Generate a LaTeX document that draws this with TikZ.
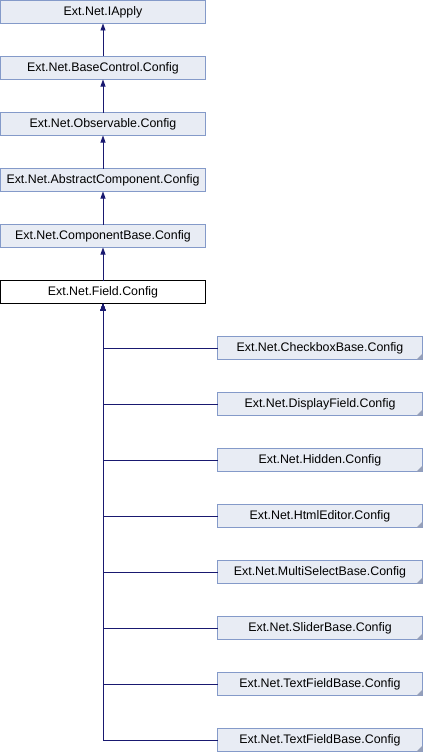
\documentclass[tikz,border=0pt]{standalone}
\usepackage{fontspec}
\setmainfont{Liberation Sans}
\usetikzlibrary{arrows.meta,positioning}
\definecolor{colBord}{RGB}{132,154,201}
\definecolor{colFond}{RGB}{232,236,244}
\definecolor{colLien}{RGB}{25,25,112}
\definecolor{colCoin}{RGB}{150,160,185}

\begin{document}
\begin{tikzpicture}[x=1pt, y=1pt, font=\fontsize{12.4}{14}\selectfont,
    cl/.style={rectangle, draw=colBord, fill=colFond, line width=0.8pt,
      minimum width=205pt, minimum height=23pt, inner sep=0pt, outer sep=0pt},
    cur/.style={cl, draw=black, fill=white},
    fl/.style={{Triangle[length=7pt, width=5pt]}-, line width=0.8pt, colLien}]
    \useasboundingbox (0,0) rectangle (424,-752);
    % chaine des parents
    \node[cl] (iapply) at (103,-12) {Ext.Net.IApply};
    \node[cl, below=33pt of iapply] (basectl) {Ext.Net.BaseControl.Config};
    \node[cl, below=33pt of basectl] (observ) {Ext.Net.Observable.Config};
    \node[cl, below=33pt of observ] (abscomp) {Ext.Net.AbstractComponent.Config};
    \node[cl, below=33pt of abscomp] (compbase) {Ext.Net.ComponentBase.Config};
    \node[cur, below=33pt of compbase] (field) {Ext.Net.Field.Config};
    \draw[fl] (iapply) -- (basectl);
    \draw[fl] (basectl) -- (observ);
    \draw[fl] (observ) -- (abscomp);
    \draw[fl] (abscomp) -- (compbase);
    \draw[fl] (compbase) -- (field);
    % classes derivees
    \node[cl] (chkbox) at (320,-348) {Ext.Net.CheckboxBase.Config};
    \node[cl, below=33pt of chkbox] (display) {Ext.Net.DisplayField.Config};
    \node[cl, below=33pt of display] (hidden) {Ext.Net.Hidden.Config};
    \node[cl, below=33pt of hidden] (htmled) {Ext.Net.HtmlEditor.Config};
    \node[cl, below=33pt of htmled] (multisel) {Ext.Net.MultiSelectBase.Config};
    \node[cl, below=33pt of multisel] (slider) {Ext.Net.SliderBase.Config};
    \node[cl, below=33pt of slider] (txtfa) {Ext.Net.TextFieldBase.Config};
    \node[cl, below=33pt of txtfa] (txtfb) {Ext.Net.TextFieldBase.Config};
    \foreach \n in {chkbox,display,hidden,htmled,multisel,slider,txtfa,txtfb} {
      \fill[colCoin] (\n.south east) -- ++(-6,0) -- ++(6,6) -- cycle;
      \draw[fl] (field) |- (\n);
    }
  \end{tikzpicture}
\end{document}
